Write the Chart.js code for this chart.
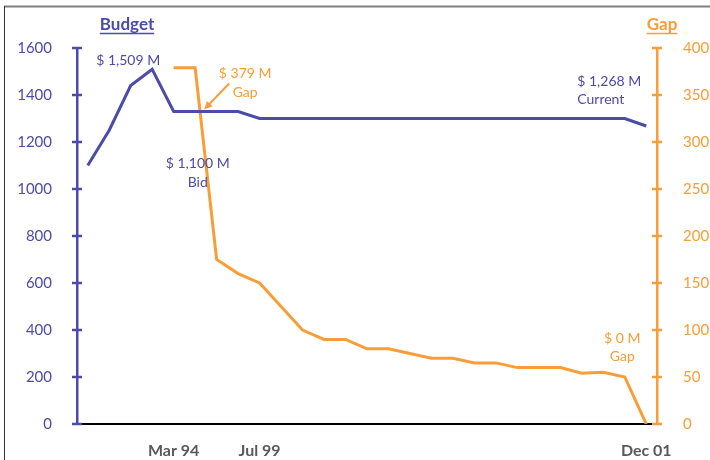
<!DOCTYPE html>
<html>
<head>
<meta charset="utf-8">
<title>Budget and Gap</title>
<script src="https://cdn.jsdelivr.net/npm/chart.js@4.4.1/dist/chart.umd.min.js"></script>
<style>
  html, body { margin: 0; padding: 0; background: #fff; }
  #wrap { width: 710px; height: 460px; }
</style>
</head>
<body>
<div id="wrap"><canvas id="budgetChart" width="710" height="460"></canvas></div>
<script>
// periods along the bottom, only three of them carry a label
const periods = ['', '', '', '', 'Mar 94', '', '', '', 'Jul 99', '', '', '', '', '',
                 '', '', '', '', '', '', '', '', '', '', '', '', 'Dec 01'];

// $M, left axis
const budget = [1100, 1250, 1440, 1509, 1330, 1330, 1330, 1330, 1300, 1300, 1300, 1300, 1300, 1300,
                1300, 1300, 1300, 1300, 1300, 1300, 1300, 1300, 1300, 1300, 1300, 1300, 1268];

// $M, right axis (starts at Mar 94)
const gap = [null, null, null, null, 379, 379, 175, 160, 150, 125, 100, 90, 90, 80,
             80, 75, 70, 70, 65, 65, 60, 60, 60, 54, 55, 50, 0];

const budgetTicks = [0, 200, 400, 600, 800, 1000, 1200, 1400, 1600];
const gapTicks = [0, 50, 100, 150, 200, 250, 300, 350, 400];

const BLUE = '#4b4ba8';
const ORANGE = '#f99d38';
const FONT = "Lato, 'Open Sans', sans-serif";

// callouts: anchored on a point (index + value on an axis), offset in px
const callouts = [
  { i: 3,  axis: 'y',  v: 1509, dx: -24, dy: -9,  lines: ['$ 1,509 M'], color: BLUE, align: 'center' },
  { i: 5,  axis: 'y2', v: 379,  dx: 50,  dy: 6,   lines: ['$ 379 M', 'Gap'], color: ORANGE, align: 'center' },
  { i: 0,  axis: 'y',  v: 1100, dx: 110, dy: -2,  lines: ['$ 1,100 M', 'Bid'], color: BLUE, align: 'center' },
  { i: 26, axis: 'y',  v: 1268, dx: -69, dy: -45, lines: ['$ 1,268 M', 'Current'], color: BLUE, align: 'left' },
  { i: 26, axis: 'y2', v: 0,    dx: -24, dy: -86, lines: ['$ 0 M', 'Gap'], color: ORANGE, align: 'center' }
];

const frameAndTitles = {
  id: 'frameAndTitles',
  beforeDraw(chart) {
    const ctx = chart.ctx;
    ctx.save();
    ctx.strokeStyle = '#808080';
    ctx.lineWidth = 2;
    ctx.beginPath();
    ctx.moveTo(4, 6.5);
    ctx.lineTo(chart.width, 6.5);
    ctx.stroke();
    ctx.strokeStyle = '#333';
    ctx.lineWidth = 1;
    ctx.beginPath();
    ctx.moveTo(4.5, 6);
    ctx.lineTo(4.5, chart.height);
    ctx.stroke();
    ctx.restore();
  },
  afterDraw(chart) {
    const ctx = chart.ctx;
    const area = chart.chartArea;
    const s = chart.scales;
    ctx.save();

    // axis titles, bold + underlined
    const title = (text, x, color) => {
      ctx.font = 'bold 17px ' + FONT;
      ctx.fillStyle = color;
      ctx.strokeStyle = color;
      ctx.textAlign = 'center';
      ctx.textBaseline = 'middle';
      ctx.fillText(text, x, 25);
      const w = ctx.measureText(text).width;
      ctx.lineWidth = 1.5;
      ctx.beginPath();
      ctx.moveTo(x - w / 2, 33.5);
      ctx.lineTo(x + w / 2, 33.5);
      ctx.stroke();
    };
    title('Budget', area.left + 50, BLUE);
    title('Gap', area.right + 5, ORANGE);

    // cross ticks on both value axes
    const cross = (scale, x, color) => {
      ctx.strokeStyle = color;
      ctx.lineWidth = 2.5;
      scale.ticks.forEach(t => {
        const y = scale.getPixelForValue(t.value);
        ctx.beginPath();
        ctx.moveTo(x - 5, y);
        ctx.lineTo(x + 5, y);
        ctx.stroke();
      });
    };
    cross(s.y, area.left, BLUE);
    cross(s.y2, area.right, ORANGE);

    // callout texts
    ctx.font = '14px ' + FONT;
    ctx.textBaseline = 'middle';
    callouts.forEach(c => {
      const x = s.x.getPixelForValue(c.i) + c.dx;
      const y = s[c.axis].getPixelForValue(c.v) + c.dy;
      ctx.fillStyle = c.color;
      ctx.textAlign = c.align;
      c.lines.forEach((line, k) => ctx.fillText(line, x, y + k * 18.5));
    });

    // arrow from the $379 M note down to where the lines cross
    const tipX = s.x.getPixelForValue(5) + 9;
    const tipY = s.y.getPixelForValue(1330) - 2;
    const fromX = tipX + 25, fromY = tipY - 26;
    const ang = Math.atan2(tipY - fromY, tipX - fromX);
    ctx.strokeStyle = ORANGE;
    ctx.fillStyle = ORANGE;
    ctx.lineWidth = 2;
    ctx.beginPath();
    ctx.moveTo(fromX, fromY);
    ctx.lineTo(tipX - 6 * Math.cos(ang), tipY - 6 * Math.sin(ang));
    ctx.stroke();
    ctx.beginPath();
    ctx.moveTo(tipX, tipY);
    ctx.lineTo(tipX - 9 * Math.cos(ang - 0.45), tipY - 9 * Math.sin(ang - 0.45));
    ctx.lineTo(tipX - 9 * Math.cos(ang + 0.45), tipY - 9 * Math.sin(ang + 0.45));
    ctx.closePath();
    ctx.fill();

    ctx.restore();
  }
};

new Chart(document.getElementById('budgetChart'), {
  type: 'line',
  data: {
    labels: periods,
    datasets: [
      {
        label: 'Budget',
        data: budget,
        yAxisID: 'y',
        borderColor: BLUE,
        borderWidth: 3,
        pointRadius: 0,
        tension: 0
      },
      {
        label: 'Gap',
        data: gap,
        yAxisID: 'y2',
        borderColor: ORANGE,
        borderWidth: 3,
        pointRadius: 0,
        tension: 0
      }
    ]
  },
  options: {
    responsive: false,
    animation: false,
    devicePixelRatio: 1,
    layout: { padding: { top: 48, left: 0, right: 0, bottom: 0 } },
    plugins: {
      legend: { display: false },
      tooltip: { enabled: false }
    },
    scales: {
      x: {
        type: 'category',
        offset: true,
        grid: { display: false },
        border: { display: true, color: '#000', width: 2 },
        ticks: {
          autoSkip: false,
          maxRotation: 0,
          padding: 9,
          color: '#595959',
          font: { family: FONT, size: 16, weight: 'bold' }
        },
        afterFit(scale) { scale.height = 36; }
      },
      y: {
        position: 'left',
        min: 0,
        max: 1600,
        afterBuildTicks(scale) { scale.ticks = budgetTicks.map(v => ({ value: v })); },
        grid: { display: false },
        border: { display: true, color: BLUE, width: 2.5 },
        ticks: {
          padding: 17,
          color: BLUE,
          font: { family: FONT, size: 15 },
          callback: v => String(v)
        },
        afterFit(scale) { scale.width = 77; }
      },
      y2: {
        position: 'right',
        min: 0,
        max: 400,
        afterBuildTicks(scale) { scale.ticks = gapTicks.map(v => ({ value: v })); },
        grid: { display: false },
        border: { display: true, color: ORANGE, width: 2.5 },
        ticks: {
          padding: 18,
          color: ORANGE,
          font: { family: FONT, size: 15 },
          callback: v => String(v)
        },
        afterFit(scale) { scale.width = 53; }
      }
    }
  },
  plugins: [frameAndTitles]
});
</script>
</body>
</html>
